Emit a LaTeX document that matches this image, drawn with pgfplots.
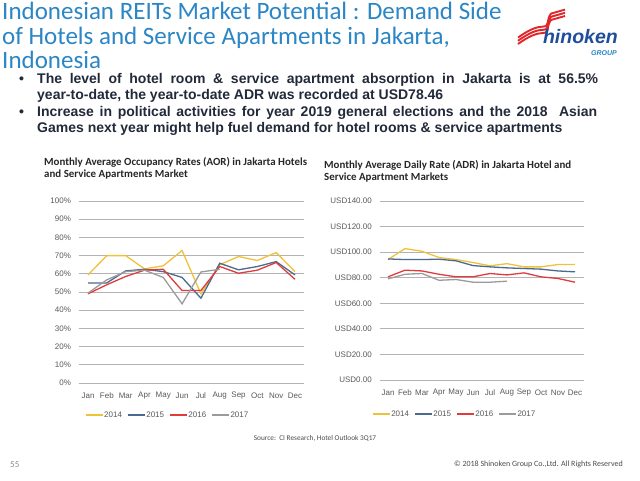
\documentclass[border=0pt]{standalone}
\usepackage{pgfplots}
\pgfplotsset{compat=1.18}
\usepackage{fontspec}
\setmainfont{Carlito}
\newfontfamily\arial{Liberation Sans}
\definecolor{titleblue}{HTML}{2B86C5}
\definecolor{bodytext}{HTML}{222A3A}
\definecolor{s14}{HTML}{EFC23A}
\definecolor{s15}{HTML}{4B6A90}
\definecolor{s16}{HTML}{E23B3B}
\definecolor{s17}{HTML}{9B9B9B}
\definecolor{gridgray}{HTML}{B3B3B3}
\definecolor{ticklab}{HTML}{595959}
\definecolor{logored}{HTML}{E0262B}
\definecolor{logoblue}{HTML}{1F4E9A}
\pgfplotsset{
  mychart/.style={
    scale only axis,
    axis line style={draw=none},
    tick style={draw=none},
    xmin=-0.5, xmax=11.5,
    xtick={0,...,11},
    xticklabels={Jan,Feb,Mar,Apr,May,Jun,Jul,Aug,Sep,Oct,Nov,Dec},
    ymajorgrids,
    grid style={draw=gridgray, line width=0.9pt},
    tick label style={font=\arial\fontsize{8}{9}\selectfont, text=ticklab, inner sep=0pt},
    xticklabel style={anchor=center, yshift=-13pt},
    yticklabel style={anchor=east, xshift=-7.5pt},
    every axis plot/.append style={line width=1.3pt, mark=none},
    legend columns=4,
    legend image code/.code={\draw[##1] (0pt,0pt) -- (17pt,0pt);},
    legend style={draw=none, fill=none, inner sep=0pt, outer sep=0pt,
      font=\arial\fontsize{8}{9}\selectfont, text=ticklab,
      nodes={inner sep=1pt},
      /tikz/every even column/.append style={column sep=4pt}},
  }
}
\begin{document}
\begin{tikzpicture}
\useasboundingbox (0,0) rectangle (640pt,-480pt);
\fill[white] (0,0) rectangle (640pt,-480pt);

% Slide title
\begin{scope}[every node/.style={anchor=base west, inner sep=0pt, text=titleblue, font=\fontsize{25}{26}\selectfont}]
\node at (2pt,-19.5pt) {Indonesian REITs Market Potential : Demand Side};
\node at (2pt,-44pt) {of Hotels and Service Apartments in Jakarta,};
\node at (2pt,-68pt) {Indonesia};
\end{scope}

% Logo
\foreach \d in {0,3.2,6.4}{
  \draw[logored, line width=1.9pt] (518pt,-44pt+\d pt) .. controls (529pt,-36pt+\d pt) and (537pt,-33pt+\d pt) .. (543pt,-33pt+\d pt)
     .. controls (550pt,-33pt+\d pt) and (546pt,-26pt+\d pt) .. (551pt,-20pt+\d pt) -- (565pt,-16pt+\d pt);
}
\node[anchor=base east, inner sep=0pt, text=logoblue, font=\arial\bfseries\itshape\fontsize{19.5}{20}\selectfont] at (618pt,-43pt) {hinoken};
\node[anchor=base east, inner sep=0pt, text=titleblue, font=\arial\bfseries\itshape\fontsize{7}{7}\selectfont] at (617pt,-55pt) {GROUP};

% Bullets
\begin{scope}[every node/.style={anchor=base west, inner sep=0pt, text=bodytext, font=\arial\bfseries\fontsize{14}{16}\selectfont}]
\node at (19pt,-83pt) {\textbullet};
\node at (37pt,-83pt) {\makebox[561pt][s]{The level of hotel room \& service apartment absorption in Jakarta is at 56.5\%}};
\node at (37pt,-99.5pt) {year-to-date, the year-to-date ADR was recorded at USD78.46};
\node at (19pt,-116pt) {\textbullet};
\node at (37pt,-116pt) {\makebox[560pt][s]{Increase in political activities for year 2019 general elections and the 2018\ \ Asian}};
\node at (37pt,-132.5pt) {Games next year might help fuel demand for hotel rooms \& service apartments};
\end{scope}

% Chart titles
\begin{scope}[every node/.style={anchor=base west, inner sep=0pt, text=black!85, font=\bfseries\fontsize{10.9}{12}\selectfont}]
\node at (44pt,-165pt) {Monthly Average Occupancy Rates (AOR) in Jakarta Hotels};
\node at (44pt,-177pt) {and Service Apartments Market};
\node at (324pt,-168pt) {Monthly Average Daily Rate (ADR) in Jakarta Hotel and};
\node at (324pt,-180pt) {Service Apartment Markets};
\end{scope}

% Left chart: AOR
\begin{axis}[mychart, at={(78.6pt,-383pt)}, anchor=south west,
  width=225.8pt, height=182pt,
  ymin=0, ymax=100, ytick={0,10,...,100},
  yticklabels={0\%,10\%,20\%,30\%,40\%,50\%,60\%,70\%,80\%,90\%,100\%},
  legend style={at={(0.028,-0.176)}, anchor=west}]
\addplot[s14] coordinates {(0,59.4)(1,70)(2,70)(3,62.7)(4,64.4)(5,72.8)(6,49)(7,65)(8,69.5)(9,67.3)(10,71.7)(11,61.2)};
\addplot[s15] coordinates {(0,55)(1,55)(2,61.6)(3,62.5)(4,61.2)(5,58)(6,46.6)(7,65.8)(8,62.2)(9,64)(10,66.7)(11,59.4)};
\addplot[s16] coordinates {(0,49)(1,54)(2,58.5)(3,62)(4,62.5)(5,50.8)(6,50.8)(7,64)(8,60.3)(9,62)(10,66.2)(11,57)};
\addplot[s17] coordinates {(0,49.4)(1,56.7)(2,61.2)(3,62)(4,58)(5,43.5)(6,61)(7,62.5)};
\legend{2014,2015,2016,2017}
\end{axis}

% Right chart: ADR
\begin{axis}[mychart, at={(379.5pt,-380pt)}, anchor=south west,
  width=204pt, height=179pt,
  ymin=0, ymax=140, ytick={0,20,...,140},
  yticklabels={USD0.00,USD20.00,USD40.00,USD60.00,USD80.00,USD100.00,USD120.00,USD140.00},
  legend style={at={(-0.037,-0.19)}, anchor=west}]
\addplot[s14] coordinates {(0,94.2)(1,102.8)(2,100.7)(3,95.8)(4,94.2)(5,91.9)(6,89.3)(7,91)(8,88.5)(9,88.5)(10,90.3)(11,90.3)};
\addplot[s15] coordinates {(0,94.7)(1,94.2)(2,94.2)(3,94.5)(4,93.2)(5,89.5)(6,88.5)(7,87.7)(8,87.2)(9,86.7)(10,85.3)(11,84.6)};
\addplot[s16] coordinates {(0,80.7)(1,85.9)(2,85.3)(3,82.7)(4,80.7)(5,80.7)(6,83.3)(7,82.2)(8,83.8)(9,80.7)(10,79.4)(11,76.5)};
\addplot[s17] coordinates {(0,79.1)(1,82.7)(2,83.3)(3,78)(4,78.6)(5,76.5)(6,76.5)(7,77.3)};
\legend{2014,2015,2016,2017}
\end{axis}

% Footer
\node[anchor=base, inner sep=0pt, text=black!70, font=\fontsize{7.3}{8}\selectfont] at (315pt,-440pt) {Source:\ \ CI Research, Hotel Outlook 3Q17};
\node[anchor=base west, inner sep=0pt, text=black!45, font=\fontsize{9}{10}\selectfont] at (10pt,-467pt) {55};
\node[anchor=base east, inner sep=0pt, text=black!70, font=\fontsize{8}{9}\selectfont] at (623pt,-466pt) {\textcopyright\ 2018 Shinoken Group Co.,Ltd. All Rights Reserved};
\end{tikzpicture}
\end{document}
